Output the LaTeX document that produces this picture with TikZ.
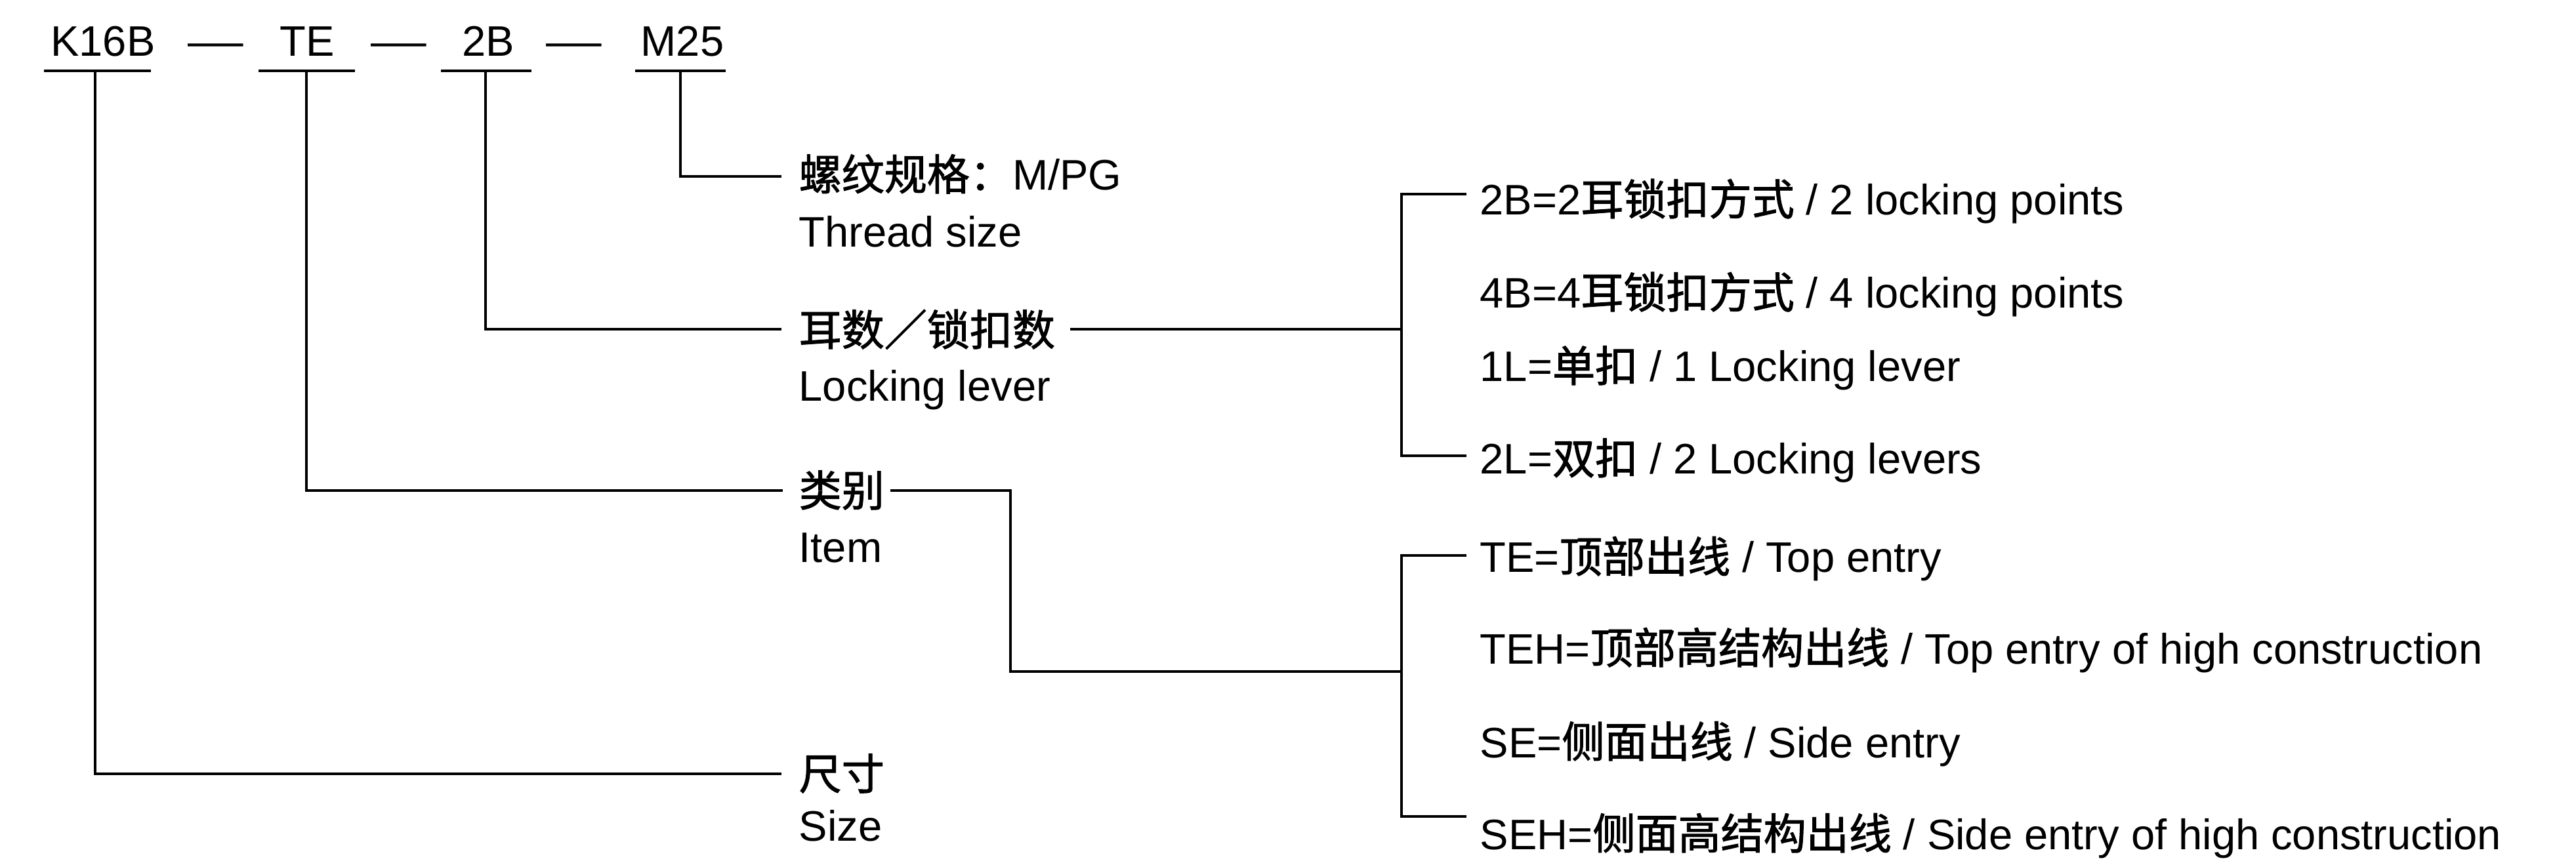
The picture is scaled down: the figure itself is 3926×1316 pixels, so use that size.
\documentclass[tikz,border=0pt]{standalone}
\usepackage{fontspec}
\setmainfont{Liberation Sans}
\newfontfamily\cjk[FakeBold=1.5]{Noto Sans CJK SC}
\begin{document}
\begin{tikzpicture}[x=0.01cm,y=-0.01cm,
  txt/.style={inner sep=0pt, font=\fontsize{18.5pt}{22pt}\selectfont},
  lbl/.style={txt, anchor=base west},
  ttl/.style={txt, anchor=base},
  wire/.style={line width=1.2pt, line join=miter}]
\useasboundingbox[fill=white] (0,0) rectangle (3926,1316);

% code line
\node[ttl] (k16b) at (157,86) {K16B};
\node[ttl] (d1) at (329,86) {\scalebox{1.3}[1]{—}};
\node[ttl] (te) at (468,86) {TE};
\node[ttl] (d2) at (608,86) {\scalebox{1.3}[1]{—}};
\node[ttl] (b2) at (744,86) {2B};
\node[ttl] (d3) at (875,86) {\scalebox{1.3}[1]{—}};
\node[ttl] (m25) at (1040,86) {M25};

% underlines
\coordinate (uk) at (145,108);
\coordinate (ut) at (467,108);
\coordinate (ub) at (740,108);
\coordinate (um) at (1037,108);
\draw[wire] (67,108) -- (230,108);
\draw[wire] (394,108) -- (541,108);
\draw[wire] (672,108) -- (810,108);
\draw[wire] (968,108) -- (1106,108);

% left labels
\node[lbl] (thread) at (1217,290) {{\cjk 螺纹规格：}M/PG};
\node[lbl] (threadE) at (1217,377) {Thread size};
\node[lbl] (lever) at (1217,527) {\cjk 耳数／锁扣数};
\node[lbl] (leverE) at (1217,612) {Locking lever};
\node[lbl] (item) at (1217,772) {\cjk 类别};
\node[lbl] (itemE) at (1217,858) {Item};
\node[lbl] (size) at (1217,1204) {\cjk 尺寸};
\node[lbl] (sizeE) at (1217,1282) {Size};

% connector ends
\coordinate (ja) at (1191,269);
\coordinate (jb) at (1191,502);
\coordinate (jc) at (1193,748);
\coordinate (jd) at (1191,1180);
\draw[wire] (um) |- (ja);
\draw[wire] (ub) |- (jb);
\draw[wire] (ut) |- (jc);
\draw[wire] (uk) |- (jd);

% to brackets
\coordinate (lb) at (1631,502);
\coordinate (brA) at (2136,502);
\draw[wire] (lb) -- (brA);
\coordinate (ib) at (1357,748);
\coordinate (ic) at (1540,1024);
\coordinate (brB) at (2136,1024);
\draw[wire] (ib) -| (ic) -- (brB);

% bracket A
\coordinate (ta1) at (2235,296);
\coordinate (ta2) at (2235,695);
\draw[wire] (ta1) -- (2136,296) -- (2136,695) -- (ta2);
% bracket B
\coordinate (tb1) at (2235,847);
\coordinate (tb2) at (2235,1245);
\draw[wire] (tb1) -- (2136,847) -- (2136,1245) -- (tb2);

% right labels
\node[lbl] (r1) at (2255,328) {2B=2{\cjk 耳锁扣方式} / 2 locking points};
\node[lbl] (r2) at (2255,470) {4B=4{\cjk 耳锁扣方式} / 4 locking points};
\node[lbl] (r3) at (2255,582) {1L={\cjk 单扣} / 1 Locking lever};
\node[lbl] (r4) at (2255,723) {2L={\cjk 双扣} / 2 Locking levers};
\node[lbl] (s1) at (2255,873) {TE={\cjk 顶部出线} / Top entry};
\node[lbl] (s2) at (2255,1012) {TEH={\cjk 顶部高结构出线} / Top entry of high construction};
\node[lbl] (s3) at (2255,1155) {SE={\cjk 侧面出线} / Side entry};
\node[lbl] (s4) at (2255,1295) {SEH={\cjk 侧面高结构出线} / Side entry of high construction};
\end{tikzpicture}
\end{document}
